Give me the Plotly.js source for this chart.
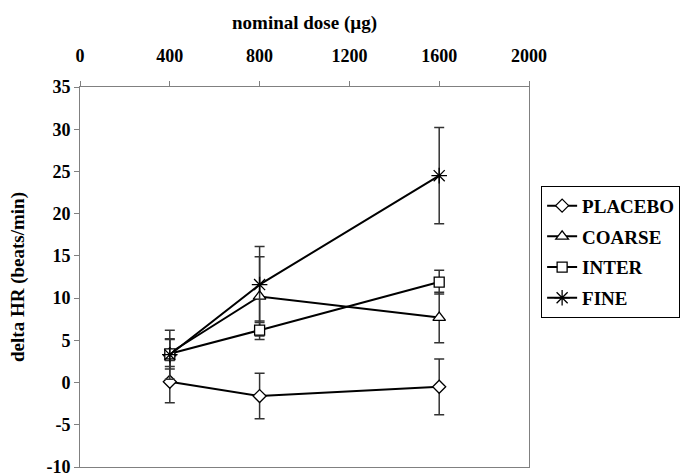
<!DOCTYPE html>
<html>
<head>
<meta charset="utf-8">
<script src="https://cdn.plot.ly/plotly-3.0.1.min.js"></script>
<style>html,body{margin:0;padding:0;background:#fff;}#chart{width:689px;height:476px;}</style>
</head>
<body>
<div id="chart"></div>
<script>
var dose = [400, 800, 1600];
var seriesNames = ["PLACEBO", "COARSE", "INTER", "FINE"];
var placebo = [0.1, -1.6, -0.5];
var placeboErr = [2.5, 2.7, 3.3];
var coarse = [3.5, 10.2, 7.7];
var coarseErr = [1.6, 4.7, 3.0];
var inter = [3.4, 6.2, 11.9];
var interErr = [1.8, 1.1, 1.4];
var fine = [3.3, 11.6, 24.5];
var fineErr = [2.9, 4.5, 5.7];
var xTicks = [0, 400, 800, 1200, 1600, 2000];
var yTicks = [-10, -5, 0, 5, 10, 15, 20, 25, 30, 35];

var FONT = "Liberation Serif, Times New Roman, serif";
var symbols = ["diamond", "triangle-up", "square", "asterisk-open"];
var sizes = [10, 11, 10, 13];
var fills = ["#fff", "#fff", "#fff", "#000"];
var values = [placebo, coarse, inter, fine];
var errs = [placeboErr, coarseErr, interErr, fineErr];

var traces = seriesNames.map(function (name, i) {
  return {
    type: "scatter",
    mode: "lines+markers",
    name: name,
    legendgroup: "g" + i,
    x: dose,
    y: values[i],
    line: {color: "#000", width: 2},
    marker: {symbol: symbols[i], size: sizes[i], color: fills[i],
             line: {color: "#000", width: 1.3}},
    error_y: {type: "data", array: errs[i], visible: true,
              color: "#333", thickness: 1.5, width: 5}
  };
});

var layout = {
  width: 689, height: 476,
  margin: {l: 80, r: 158, t: 87, b: 9},
  paper_bgcolor: "#fff", plot_bgcolor: "#fff",
  font: {family: FONT, color: "#000"},
  showlegend: true,
  legend: {
    x: 1.027, y: 0.74, xanchor: "left", yanchor: "top",
    bordercolor: "#000", borderwidth: 1,
    font: {family: FONT, size: 19, weight: "bold", color: "#000"},
    traceorder: "grouped", tracegroupgap: 3, itemwidth: 30
  },
  xaxis: {
    side: "top", range: [0, 2000], tickvals: xTicks, ticktext: xTicks.map(String),
    showgrid: false, zeroline: false, showline: true, linecolor: "#808080", linewidth: 1,
    mirror: true, ticks: "outside", ticklen: 5, tickcolor: "#808080",
    ticklabelstandoff: 12,
    tickfont: {family: FONT, size: 18, weight: "bold", color: "#000"},
    title: {text: "nominal dose (µg)", standoff: 11,
            font: {family: FONT, size: 19, weight: "bold", color: "#000"}}
  },
  yaxis: {
    range: [-10, 35], tickvals: yTicks, ticktext: yTicks.map(String),
    showgrid: false, zeroline: false, showline: true, linecolor: "#808080", linewidth: 1,
    mirror: true, ticks: "outside", ticklen: 5, tickcolor: "#808080",
    ticklabeloverflow: "allow",
    tickfont: {family: FONT, size: 18, weight: "bold", color: "#000"},
    title: {text: "delta HR (beats/min)", standoff: 16,
            font: {family: FONT, size: 19, weight: "bold", color: "#000"}}
  }
};

Plotly.newPlot("chart", traces, layout, {displayModeBar: false, staticPlot: true});
</script>
</body>
</html>
